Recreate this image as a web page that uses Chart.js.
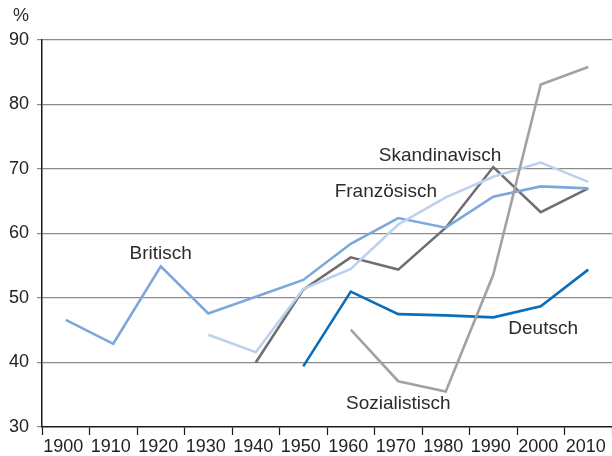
<!DOCTYPE html>
<html>
<head>
<meta charset="utf-8">
<script src="https://cdn.jsdelivr.net/npm/chart.js@4/dist/chart.umd.min.js"></script>
<style>
  html, body { margin: 0; padding: 0; background: #fff; }
  #wrap { width: 612px; height: 456px; }
</style>
</head>
<body>
<div id="wrap"><canvas id="shareChart"></canvas></div>
<script>
// decades on the x axis
const decades = ["1900", "1910", "1920", "1930", "1940", "1950", "1960", "1970", "1980", "1990", "2000", "2010"];
const yTicks = [30, 40, 50, 60, 70, 80, 90];

// series values in %, null where the series has no value
const britisch      = [46.6, 42.9, 54.9, 47.6, 50.2, 52.8, 58.4, 62.4, 60.9, 65.7, 67.3, 67.0];
const franzoesisch  = [null, null, null, 44.3, 41.6, 51.4, 54.5, 61.4, 65.6, 68.8, 71.0, 68.0];
const skandinavisch = [null, null, null, null, 40.0, 51.3, 56.3, 54.4, 60.9, 70.3, 63.3, 67.0];
const deutsch       = [null, null, null, null, null, 39.4, 51.0, 47.5, 47.3, 47.0, 48.7, 54.4];
const sozialistisch = [null, null, null, null, null, null, 45.1, 37.1, 35.5, 53.6, 83.1, 85.8];

// text labels next to the lines: [text, category position, value]
const seriesLabels = [
  ["Britisch", 2, 56.9],
  ["Französisch", 6.74, 66.4],
  ["Skandinavisch", 7.88, 72.1],
  ["Deutsch", 10.05, 45.2],
  ["Sozialistisch", 7.0, 33.6]
];

// draws the series names and the % unit
const labelPlugin = {
  id: "labelPlugin",
  afterDatasetsDraw(chart) {
    const ctx = chart.ctx;
    const x = chart.scales.x;
    const y = chart.scales.y;
    ctx.save();
    ctx.fillStyle = "#2b2b2b";
    ctx.font = "19px 'Liberation Sans', Arial, sans-serif";
    ctx.textAlign = "center";
    ctx.textBaseline = "middle";
    seriesLabels.forEach(l => {
      ctx.fillText(l[0], x.getPixelForValue(l[1]), y.getPixelForValue(l[2]));
    });
    ctx.font = "18px 'Liberation Sans', Arial, sans-serif";
    ctx.textAlign = "right";
    ctx.fillText("%", 29, 16);
    ctx.restore();
  }
};

function line(label, data, color) {
  return {
    label: label,
    data: data,
    borderColor: color,
    backgroundColor: color,
    borderWidth: 2.6,
    pointRadius: 0,
    tension: 0,
    spanGaps: false,
    borderJoinStyle: "miter"
  };
}

new Chart(document.getElementById("shareChart").getContext("2d"), {
  type: "line",
  data: {
    labels: decades,
    datasets: [
      line("Sozialistisch", sozialistisch, "#a2a2a4"),
      line("Französisch", franzoesisch, "#bad2ee"),
      line("Britisch", britisch, "#7ca8da"),
      line("Skandinavisch", skandinavisch, "#6f6f71"),
      line("Deutsch", deutsch, "#0a6fb8")
    ]
  },
  options: {
    responsive: true,
    maintainAspectRatio: false,
    animation: false,
    layout: { padding: { top: 40, left: 0, right: 0, bottom: 0 } },
    plugins: {
      legend: { display: false },
      tooltip: { enabled: false }
    },
    scales: {
      x: {
        type: "category",
        offset: true,
        grid: {
          offset: true,
          drawOnChartArea: false,
          drawTicks: true,
          tickLength: 8,
          tickColor: "#1a1a1a",
          tickWidth: 1.2
        },
        border: { color: "#1a1a1a", width: 1.5 },
        ticks: {
          autoSkip: false,
          maxRotation: 0,
          labelOffset: -2.5,
          padding: 1,
          color: "#222",
          font: { family: "'Liberation Sans', Arial, sans-serif", size: 18 }
        },
        afterFit: s => { s.height = 29; }
      },
      y: {
        min: 30,
        max: 90,
        afterBuildTicks: s => { s.ticks = yTicks.map(v => ({ value: v })); },
        grid: {
          color: c => (c.tick && c.tick.value === 30 ? "rgba(0,0,0,0)" : "#8c8c8c"),
          tickColor: "#8c8c8c",
          tickLength: 5,
          lineWidth: 1.2
        },
        border: { color: "#1a1a1a", width: 1.5 },
        ticks: {
          padding: 8,
          color: "#222",
          font: { family: "'Liberation Sans', Arial, sans-serif", size: 18 }
        },
        afterFit: s => { s.width = 42; }
      }
    }
  },
  plugins: [labelPlugin]
});
</script>
</body>
</html>
